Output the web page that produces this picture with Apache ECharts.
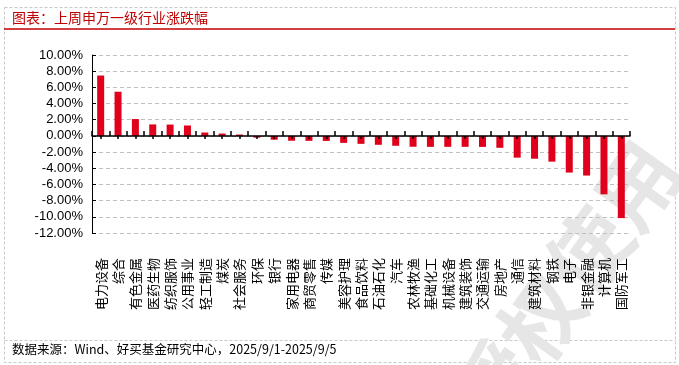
<!DOCTYPE html>
<html>
<head>
<meta charset="utf-8">
<script src="https://cdn.jsdelivr.net/npm/echarts@6/dist/echarts.min.js"></script>
<style>
html,body{margin:0;padding:0;background:#fff;}
#c{width:679px;height:365px;}
</style>
</head>
<body>
<div id="c"></div>
<script>
var categories = ['电力设备','综合','有色金属','医药生物','纺织服饰','公用事业','轻工制造','煤炭','社会服务','环保','银行','家用电器','商贸零售','传媒','美容护理','食品饮料','石油石化','汽车','农林牧渔','基础化工','机械设备','建筑装饰','交通运输','房地产','通信','建筑材料','钢铁','电子','非银金融','计算机','国防军工'];
var changes = [7.46,5.46,2.08,1.42,1.40,1.29,0.42,0.29,0.17,-0.21,-0.47,-0.60,-0.61,-0.62,-0.86,-0.98,-1.10,-1.22,-1.34,-1.35,-1.35,-1.35,-1.36,-1.47,-2.69,-2.82,-3.18,-4.53,-4.90,-7.22,-10.16];
var yTicks = {min:-12, max:10, interval:2};
var titleText = '图表：上周申万一级行业涨跌幅';
var sourceText = '数据来源：Wind、好买基金研究中心，2025/9/1-2025/9/5';

var chart = echarts.init(document.getElementById('c'));
chart.setOption({
  animation:false,
  backgroundColor:'#fff',
  grid:{left:92, right:49, top:55, bottom:132, containLabel:false, outerBoundsMode:'none'},
  graphic:[
    {type:'rect', z:-10, shape:{x:4.5,y:7.5,width:671,height:355}, style:{fill:'none', stroke:'#c8c8c8', lineWidth:1, lineDash:[3,2]}},
    {type:'line', z:-10, shape:{x1:4.5,y1:340.5,x2:675.5,y2:340.5}, style:{stroke:'#c8c8c8', lineWidth:1, lineDash:[3,2]}},
    {type:'line', z:5, shape:{x1:4,y1:29,x2:675,y2:29}, style:{stroke:'#C00000', lineWidth:1.5}},
    {type:'text', z:5, left:12, top:11, style:{text:titleText, fill:'#C00000', font:'14px "Noto Sans CJK SC", sans-serif'}},
    {type:'text', z:5, left:12, top:343, style:{text:sourceText, fill:'#000', font:'12.5px "Noto Sans CJK SC", sans-serif'}},
    {type:'text', z:-5, x:565, y:285, rotation:0.95, style:{text:'授权使用', fill:'#e6e6e6', font:'bold 82px "Noto Sans CJK SC", sans-serif', align:'center', verticalAlign:'middle'}}
  ],
  xAxis:[
    {type:'category', data:categories, z:6,
     axisLine:{onZero:true, lineStyle:{color:'#000', width:1.5}},
     axisTick:{show:true, inside:true, length:5, alignWithLabel:false, lineStyle:{color:'#000', width:1.5}},
     axisLabel:{show:true, interval:0, rotate:90, margin:25, color:'#000', fontSize:13, fontFamily:'"Noto Sans CJK SC", sans-serif'},
     splitLine:{show:false}},
    {type:'category', data:categories, z:6,
     axisLine:{show:false, onZero:true, onZeroAxisIndex:0},
     axisTick:{show:true, inside:true, length:3, alignWithLabel:true, interval:0, lineStyle:{color:'#000', width:1.5}},
     axisLabel:{show:false},
     splitLine:{show:false}}
  ],
  yAxis:{type:'value', min:yTicks.min, max:yTicks.max, interval:yTicks.interval,
    axisLine:{show:true, lineStyle:{color:'#000', width:1}},
    axisTick:{show:true, inside:true, length:4, lineStyle:{color:'#000'}},
    axisLabel:{color:'#000', fontSize:13, fontFamily:'"Liberation Sans", Arial, sans-serif', margin:9,
      formatter:function(v){return v.toFixed(2)+'%';}},
    splitLine:{show:true, lineStyle:{color:'#c0c0c0', type:[4,3], width:1}}
  },
  series:[{type:'bar', data:changes, barWidth:7, itemStyle:{color:'#E0001B'}, xAxisIndex:0}]
});
</script>
</body>
</html>
